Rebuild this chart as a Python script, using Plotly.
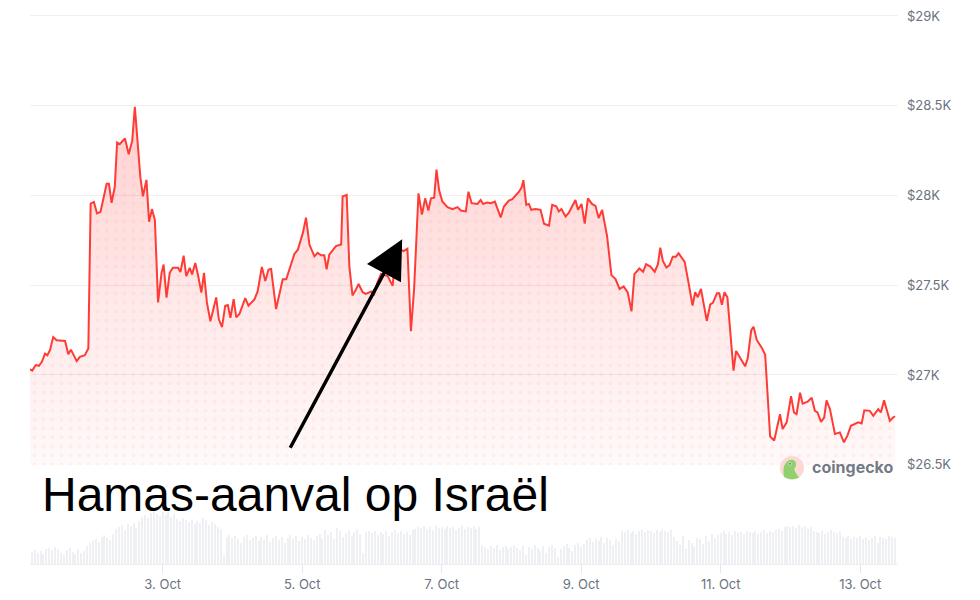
import pandas as pd
import plotly.graph_objects as go

BASE = pd.Timestamp("2023-10-01 00:00")

# ---- price series (hours since 1 Oct 2023 00:00, USD) ----
price_hours = [
    2.3, 3.1, 4.3, 5.4, 6.4, 7.5, 8.3, 9.2, 10.3, 11.5, 14.4, 15.5, 16.4, 18.4, 19.5, 21.2, 22.4, 23.2, 24.3, 25.4,
    26.6, 28.7, 29.5, 30.4, 31.5, 32.3, 33.2, 35.0, 36.3, 37.5, 38.4, 39.5, 40.3, 41.2, 42.4, 43.3, 44.3, 45.3, 46.4, 47.6,
    48.3, 49.3, 50.4, 51.5, 53.3, 54.1, 55.2, 56.1, 57.3, 58.1, 59.2, 60.1, 61.3, 62.2, 63.2, 64.4, 66.4, 67.3, 68.4, 69.5,
    70.4, 71.3, 72.4, 73.3, 74.4, 76.4, 77.5, 79.6, 80.7, 82.1, 83.3, 84.4, 85.3, 87.0, 89.3, 90.5, 93.3, 94.5, 96.2, 97.3,
    98.5, 100.2, 101.3, 102.5, 103.6, 104.4, 105.3,
    107.6, 109.4, 109.9, 111.3, 112.2, 113.3, 114.3, 115.4, 116.8, 117.9, 119.7, 120.6, 121.9, 123.1, 125.4, 127.1,
    128.2, 129.7, 130.8, 132.2, 133.4, 134.5, 136.0, 137.2, 138.3, 139.4, 140.3, 141.4, 142.2, 143.1, 144.2, 146.0,
    147.7, 149.4, 150.6, 152.3, 153.2, 154.3, 156.3, 157.4, 158.2, 159.7, 160.9, 162.3, 163.1, 164.3, 165.4, 167.1,
    168.3, 170.6, 171.5, 172.1, 173.1, 174.0, 174.8, 176.3, 178.0, 179.2, 180.9, 182.0, 183.4, 184.3, 185.2, 186.6,
    187.7, 190.0, 190.9, 192.1, 193.2, 194.3, 195.7, 196.9, 198.0, 199.2, 200.9, 202.4,
    203.8, 205.2, 206.6, 208.0, 209.3, 210.3, 212.0, 213.3, 214.3, 215.8, 217.3, 218.4, 219.2, 220.1, 221.3, 222.4,
    223.5, 224.6, 225.5, 226.6, 227.6, 228.9, 230.3, 231.2, 232.1, 233.2, 235.2, 236.4, 237.3, 238.7, 239.5, 240.4,
    241.3, 242.3, 244.4, 245.3, 246.7, 248.4, 249.3, 250.5, 251.3, 252.4, 254.1, 255.3, 257.0, 258.4, 260.4, 261.3,
    262.7, 264.2, 265.2, 266.1, 267.3, 268.2, 269.9, 271.3, 272.4, 273.3, 274.5, 275.6, 276.4, 277.6, 279.3, 281.0,
    282.4, 283.6, 284.8, 286.2, 287.3, 288.5, 289.4, 291.3, 292.5, 294.2, 295.1, 296.2, 298.2, 299.3, 300.0,
]
price_usd = [
    27031, 27024, 27055, 27051, 27073, 27119, 27110, 27138, 27211, 27193, 27189, 27116, 27141, 27077, 27101, 27110, 27147, 27955, 27964, 27900,
    27909, 28065, 28065, 27959, 28047, 28295, 28286, 28317, 28230, 28304, 28493, 28267, 28102, 27995, 28087, 27854, 27924, 27863, 27404, 27569,
    27615, 27431, 27569, 27597, 27597, 27573, 27665, 27551, 27597, 27560, 27624, 27560, 27459, 27569, 27404, 27299, 27432, 27310, 27266, 27386,
    27390, 27318, 27422, 27321, 27340, 27428, 27386, 27422, 27468, 27602, 27523, 27587, 27590, 27367, 27533, 27533, 27674, 27698, 27790, 27876,
    27725, 27661, 27680, 27667, 27667, 27588, 27670,
    27718, 27727, 27994, 28003, 27608, 27443, 27470, 27507, 27461, 27452, 27465, 27443, 27516, 27562, 27551, 27496,
    27680, 27700, 27690, 27703, 27244, 27479, 28012, 27893, 27984, 27916, 27984, 27988, 28144, 28030, 27966, 27935,
    27924, 27935, 27916, 27911, 28021, 27957, 27953, 27975, 27953, 27960, 27957, 27966, 27929, 27878, 27938, 27971,
    27979, 28021, 28045, 28085, 27948, 27953, 27920, 27924, 27920, 27843, 27832, 27948, 27939, 27911, 27924, 27883,
    27902, 27975, 27920, 27953, 27843, 27984, 27953, 27942, 27874, 27920, 27773, 27556,
    27534, 27479, 27493, 27460, 27354, 27562, 27593, 27575, 27617, 27604, 27575, 27617, 27709, 27635, 27599, 27612,
    27659, 27659, 27678, 27654, 27630, 27516, 27387, 27461, 27433, 27479, 27301, 27393, 27402, 27455, 27455, 27391,
    27461, 27433, 27024, 27134, 27094, 27048, 27094, 27250, 27268, 27195, 27152, 27112, 26657, 26635, 26781, 26699,
    26736, 26882, 26791, 26782, 26901, 26840, 26851, 26873, 26800, 26791, 26739, 26763, 26859, 26809, 26671, 26680,
    26625, 26662, 26717, 26730, 26736, 26730, 26803, 26800, 26772, 26809, 26791, 26859, 26745, 26763, 26770,
]

# ---- hourly volume (relative), first bar at hour 2 ----
volume_start_hour = 2
volume_vals = [
    14, 13, 15, 12, 14, 11, 16, 17, 15, 18, 16, 12, 10, 15, 17, 13, 11, 16, 12, 14, 19, 22,
    24, 26, 23, 28, 30, 27, 25, 31, 36, 38, 40, 35, 41, 39, 42, 37, 44, 48, 50, 47, 52, 54, 51, 49,
    53, 50, 54, 48, 51, 46, 44, 47, 45, 43, 46, 41, 44, 42, 47, 45, 40, 43, 41, 38, 36, 10, 28, 30,
    27, 29, 26, 22, 28, 30, 25, 27, 29, 24, 28, 26, 30, 23, 27, 29, 25, 28, 22, 27, 30, 26, 29, 24,
    28, 26, 30, 27, 25, 29, 31, 27, 35, 30, 33, 26, 37, 34, 28, 32, 35, 29, 33, 36, 31, 12, 33, 34,
    32, 34, 30, 33, 31, 34, 29, 33, 35, 32, 34, 31, 33, 30, 35, 36, 38, 37, 39, 36, 38, 35, 39, 37,
    38, 36, 39, 37, 38, 35, 37, 39, 36, 38, 37, 39, 36, 38, 20, 18, 16, 19, 17, 20, 15, 18, 19, 16,
    18, 20, 17, 15, 19, 10, 18, 16, 20, 17, 14, 19, 12, 18, 20, 17, 8, 16, 19, 21, 17, 14, 20, 22,
    18, 21, 25, 27, 23, 26, 24, 28, 22, 27, 25, 20, 26, 24, 34, 33, 35, 32, 34, 31, 34, 36, 33, 35,
    34, 32, 35, 33, 36, 34, 33, 35, 28, 24, 20, 29, 16, 25, 22, 18, 27, 26, 21, 29, 24, 31, 27, 30,
    32, 34, 31, 33, 30, 34, 32, 33, 31, 34, 33, 32, 34, 31, 33, 35, 32, 34, 33, 35, 36, 34, 38, 39,
    38, 39, 37, 40, 38, 39, 36, 38, 34, 33, 32, 34, 31, 33, 35, 33, 32, 34, 28, 27, 29, 26, 28, 27,
    29, 26, 28, 25, 27, 29, 22, 28, 27, 26, 29, 28, 27,
]

y_tick_vals = [26500, 27000, 27500, 28000, 28500, 29000]
y_tick_text = ["$26.5K", "$27K", "$27.5K", "$28K", "$28.5K", "$29K"]
x_tick_dates = ["2023-10-03", "2023-10-05", "2023-10-07", "2023-10-09", "2023-10-11", "2023-10-13"]
x_tick_text = ["3. Oct", "5. Oct", "7. Oct", "9. Oct", "11. Oct", "13. Oct"]

annotation_text = "Hamas-aanval op Israël"
arrow_tip = (130.4, 27756)    # hours, USD
arrow_tail = (91.6, 26586)

t_price = [BASE + pd.Timedelta(hours=h) for h in price_hours]
t_vol = [BASE + pd.Timedelta(hours=volume_start_hour + i) for i in range(len(volume_vals))]
y_min = y_tick_vals[0]

RED = "#ff3b36"
GRAY = "#6b7280"

# page pixel -> paper helpers (plot area spans page x 30..898, page y 8..567)
PW, PH = 868.0, 559.0
def px(x):
    return (x - 30) / PW
def py(y):
    return (567 - y) / PH

fig = go.Figure()

fig.add_trace(go.Scatter(x=t_price, y=[y_min] * len(t_price), mode="lines",
                         line=dict(width=0, color="rgba(0,0,0,0)"), hoverinfo="skip",
                         showlegend=False, xaxis="x", yaxis="y"))
fig.add_trace(go.Scatter(x=t_price, y=price_usd, mode="lines", fill="tonexty",
                         line=dict(width=0, color="rgba(0,0,0,0)"),
                         fillgradient=dict(type="vertical", start=y_min, stop=28500,
                                           colorscale=[[0, "rgba(255,70,70,0.03)"],
                                                       [0.5, "rgba(255,70,70,0.13)"],
                                                       [1, "rgba(255,70,70,0.26)"]]),
                         hoverinfo="skip", showlegend=False, xaxis="x", yaxis="y"))
fig.add_trace(go.Scatter(x=t_price, y=price_usd, mode="lines", fill="tozeroy",
                         line=dict(width=0, color="rgba(0,0,0,0)"),
                         fillcolor="rgba(0,0,0,0)",
                         fillpattern=dict(shape=".", fgcolor="rgba(255,120,120,0.18)",
                                          bgcolor="rgba(0,0,0,0)", size=9, solidity=0.15),
                         hoverinfo="skip", showlegend=False, xaxis="x", yaxis="y"))
fig.add_trace(go.Scatter(x=t_price, y=price_usd, mode="lines",
                         line=dict(width=2, color=RED), showlegend=False,
                         xaxis="x", yaxis="y"))
fig.add_trace(go.Bar(x=t_vol, y=volume_vals, marker=dict(color="#eef0f3", line=dict(width=0)),
                     width=0.42 * 3600 * 1000, showlegend=False, xaxis="x2", yaxis="y2"))

x_range = [BASE + pd.Timedelta(hours=2.33), BASE + pd.Timedelta(hours=301.0)]
price_top = 29000 + (14 - 8) / 0.1812

fig.update_layout(
    width=964, height=584,
    margin=dict(l=22, r=74, t=0, b=25),
    paper_bgcolor="white", plot_bgcolor="white",
    font=dict(family="Inter, Roboto, sans-serif", color=GRAY, size=13),
    bargap=0,
    xaxis=dict(domain=[0, 1], range=x_range, matches="x2", showticklabels=False,
               showgrid=False, zeroline=False, anchor="y"),
    yaxis=dict(domain=[py(467), 1], range=[26499, price_top], side="right",
               tickvals=y_tick_vals, ticktext=y_tick_text, showgrid=True,
               gridcolor="#f0f0f0", gridwidth=1, zeroline=False, ticks="",
               ticklabelstandoff=8, ticklabeloverflow="allow",
               tickfont=dict(size=13, color=GRAY), anchor="x"),
    xaxis2=dict(domain=[0, 1], range=x_range, tickvals=x_tick_dates, ticktext=x_tick_text,
                ticks="outside", ticklen=8, tickcolor="#e3e6ea", showgrid=False,
                showline=True, linecolor="#eceef2", linewidth=1, zeroline=False,
                tickfont=dict(size=13, color=GRAY), anchor="y2"),
    yaxis2=dict(domain=[0, py(510)], range=[0, 57], showticklabels=False, showgrid=False,
                zeroline=False, anchor="x2"),
    hovermode=False,
)

# coingecko logo
cx, cy = px(792), py(470)
sx, sy = 1 / PW, 1 / PH
fig.add_shape(type="circle", xref="paper", yref="paper", x0=cx - 12*sx, x1=cx + 12*sx,
              y0=cy - 12*sy, y1=cy + 12*sy, fillcolor="#fcd9d3", line=dict(width=0), layer="above")
fig.add_shape(type="path", xref="paper", yref="paper",
              path=(f"M {cx - 8*sx} {cy - 9*sy} "
                    f"C {cx - 10*sx} {cy + 2*sy}, {cx - 6*sx} {cy + 9*sy}, {cx + 1*sx} {cy + 8*sy} "
                    f"C {cx + 5*sx} {cy + 7*sy}, {cx + 5*sx} {cy + 2*sy}, {cx + 2*sx} {cy - 1*sy} "
                    f"C {cx + 3*sx} {cy - 5*sy}, {cx + 6*sx} {cy - 8*sy}, {cx + 7*sx} {cy - 10*sy} "
                    f"C {cx + 2*sx} {cy - 12*sy}, {cx - 4*sx} {cy - 12*sy}, {cx - 8*sx} {cy - 9*sy} Z"),
              fillcolor="#8fd16f", line=dict(width=0), layer="above")
fig.add_shape(type="circle", xref="paper", yref="paper",
              x0=cx - 3.5*sx, x1=cx - 0.5*sx, y0=cy + 2.5*sy, y1=cy + 5.5*sy,
              fillcolor="white", line=dict(width=0), layer="above")
fig.add_shape(type="circle", xref="paper", yref="paper",
              x0=cx - 2.8*sx, x1=cx - 1.2*sx, y0=cy + 3.2*sy, y1=cy + 4.8*sy,
              fillcolor="#333", line=dict(width=0), layer="above")
fig.add_annotation(xref="paper", yref="paper", x=px(810), y=py(469),
                   xanchor="left", yanchor="middle", text="coingecko", showarrow=False,
                   font=dict(family="Inter, Roboto, sans-serif", size=16, color="#737a86", weight="bold"))

# headline text
fig.add_annotation(xref="paper", yref="paper", x=px(40), y=py(497),
                   xanchor="left", yanchor="middle", text=annotation_text, showarrow=False,
                   font=dict(family="Liberation Sans, Arial, sans-serif", size=48, color="black"))

# arrow
fig.add_annotation(xref="x", yref="y", axref="x", ayref="y",
                   x=BASE + pd.Timedelta(hours=arrow_tip[0]), y=arrow_tip[1],
                   ax=BASE + pd.Timedelta(hours=arrow_tail[0]), ay=arrow_tail[1],
                   text="", showarrow=True, arrowhead=2, arrowsize=2.2, arrowwidth=3.5,
                   arrowcolor="black", standoff=0)

fig.write_html("out.html")
